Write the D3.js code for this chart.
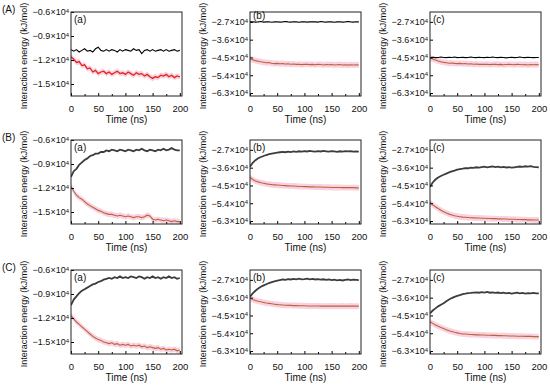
<!DOCTYPE html>
<html>
<head>
<meta charset="utf-8">
<script src="https://cdn.jsdelivr.net/npm/d3@7"></script>
<style>
  body { margin: 0; background: #fff; }
  svg { font-family: "Liberation Sans", Arial, sans-serif; }
</style>
</head>
<body>
<div id="chart"></div>
<script>
// time axis (ns), one sample every 5 ns
const times = [0,5,10,15,20,25,30,35,40,45,50,55,60,65,70,75,80,85,90,95,100,
               105,110,115,120,125,130,135,140,145,150,155,160,165,170,175,180,185,190,195,200];
const xTicks = [0, 50, 100, 150, 200];
const xMinor = [25, 75, 125, 175];
const yTicksSmall = [-0.6, -0.9, -1.2, -1.5];
const yTicksLarge = [-2.7, -3.6, -4.5, -5.4, -6.3];
const rowLabels = ["(A)", "(B)", "(C)"];
const colLabels = ["(a)", "(b)", "(c)"];

// interaction energy, units of 10^4 kJ/mol
const blackAa = [-1.07,-1.09,-1.07,-1.10,-1.08,-1.06,-1.09,-1.08,-1.10,-1.06,-1.04,-1.08,-1.09,-1.07,-1.09,-1.07,-1.08,-1.10,-1.07,-1.09,
                 -1.07,-1.08,-1.09,-1.06,-1.08,-1.07,-1.12,-1.08,-1.07,-1.09,-1.07,-1.09,-1.08,-1.07,-1.09,-1.07,-1.09,-1.08,-1.07,-1.09,-1.08];
const redAa   = [-1.16,-1.19,-1.23,-1.22,-1.27,-1.26,-1.31,-1.30,-1.35,-1.33,-1.37,-1.35,-1.34,-1.37,-1.35,-1.38,-1.36,-1.34,-1.37,-1.36,
                 -1.38,-1.35,-1.37,-1.39,-1.36,-1.38,-1.37,-1.40,-1.38,-1.41,-1.43,-1.41,-1.42,-1.39,-1.40,-1.38,-1.41,-1.39,-1.42,-1.40,-1.41];
const blackAb = [-2.70,-2.69,-2.71,-2.70,-2.68,-2.71,-2.70,-2.69,-2.72,-2.70,-2.69,-2.71,-2.70,-2.68,-2.70,-2.71,-2.69,-2.70,-2.72,-2.70,
                 -2.69,-2.71,-2.70,-2.69,-2.70,-2.71,-2.68,-2.70,-2.71,-2.69,-2.70,-2.72,-2.70,-2.69,-2.71,-2.70,-2.68,-2.70,-2.71,-2.69,-2.70];
const redAb   = [-4.58,-4.62,-4.66,-4.69,-4.72,-4.74,-4.77,-4.76,-4.79,-4.81,-4.80,-4.82,-4.81,-4.83,-4.82,-4.84,-4.83,-4.85,-4.84,-4.86,
                 -4.85,-4.84,-4.86,-4.85,-4.87,-4.85,-4.86,-4.88,-4.86,-4.87,-4.86,-4.88,-4.87,-4.86,-4.88,-4.87,-4.89,-4.87,-4.88,-4.87,-4.88];
const blackAc = [-4.50,-4.49,-4.51,-4.50,-4.48,-4.50,-4.51,-4.49,-4.50,-4.48,-4.51,-4.50,-4.49,-4.51,-4.50,-4.48,-4.50,-4.51,-4.49,-4.50,
                 -4.51,-4.49,-4.50,-4.48,-4.50,-4.51,-4.49,-4.50,-4.52,-4.50,-4.49,-4.51,-4.50,-4.48,-4.50,-4.51,-4.49,-4.50,-4.51,-4.50,-4.50];
const redAc   = [-4.53,-4.58,-4.63,-4.68,-4.72,-4.75,-4.77,-4.79,-4.78,-4.80,-4.81,-4.80,-4.82,-4.81,-4.83,-4.82,-4.84,-4.83,-4.85,-4.84,
                 -4.85,-4.84,-4.86,-4.85,-4.84,-4.86,-4.85,-4.87,-4.86,-4.85,-4.86,-4.87,-4.85,-4.86,-4.87,-4.86,-4.88,-4.86,-4.87,-4.86,-4.87];

const blackBa = [-1.06,-0.99,-0.96,-0.91,-0.88,-0.85,-0.83,-0.80,-0.79,-0.77,-0.77,-0.75,-0.75,-0.73,-0.74,-0.72,-0.73,-0.74,-0.72,-0.73,
                 -0.74,-0.72,-0.73,-0.74,-0.72,-0.73,-0.71,-0.73,-0.74,-0.72,-0.73,-0.74,-0.72,-0.73,-0.71,-0.73,-0.72,-0.70,-0.72,-0.73,-0.73];
const redBa   = [-1.18,-1.24,-1.29,-1.32,-1.34,-1.37,-1.40,-1.42,-1.44,-1.46,-1.48,-1.49,-1.51,-1.52,-1.53,-1.53,-1.54,-1.55,-1.54,-1.55,
                 -1.56,-1.55,-1.56,-1.57,-1.56,-1.56,-1.57,-1.56,-1.54,-1.55,-1.59,-1.60,-1.59,-1.60,-1.61,-1.60,-1.61,-1.62,-1.61,-1.62,-1.62];
const blackBb = [-3.55,-3.35,-3.22,-3.12,-3.06,-3.01,-2.96,-2.92,-2.89,-2.86,-2.84,-2.82,-2.80,-2.82,-2.79,-2.81,-2.78,-2.80,-2.77,-2.79,
                 -2.76,-2.78,-2.75,-2.77,-2.79,-2.76,-2.78,-2.75,-2.77,-2.79,-2.76,-2.78,-2.80,-2.77,-2.79,-2.76,-2.78,-2.77,-2.79,-2.78,-2.79];
const redBb   = [-4.10,-4.20,-4.27,-4.32,-4.36,-4.39,-4.42,-4.44,-4.46,-4.47,-4.48,-4.49,-4.50,-4.51,-4.52,-4.53,-4.53,-4.54,-4.55,-4.55,
                 -4.56,-4.56,-4.57,-4.57,-4.58,-4.58,-4.58,-4.59,-4.59,-4.59,-4.60,-4.60,-4.60,-4.60,-4.61,-4.61,-4.61,-4.61,-4.61,-4.62,-4.62];
const blackBc = [-4.56,-4.35,-4.20,-4.10,-4.02,-3.96,-3.90,-3.84,-3.79,-3.75,-3.70,-3.67,-3.65,-3.62,-3.63,-3.60,-3.61,-3.58,-3.60,-3.57,
                 -3.55,-3.58,-3.56,-3.54,-3.57,-3.55,-3.58,-3.56,-3.59,-3.57,-3.60,-3.58,-3.56,-3.54,-3.56,-3.53,-3.55,-3.52,-3.56,-3.57,-3.58];
const redBc   = [-5.35,-5.48,-5.58,-5.67,-5.75,-5.83,-5.89,-5.95,-5.99,-6.03,-6.06,-6.08,-6.10,-6.11,-6.12,-6.13,-6.14,-6.15,-6.15,-6.16,
                 -6.16,-6.17,-6.17,-6.18,-6.18,-6.19,-6.19,-6.20,-6.20,-6.21,-6.21,-6.21,-6.22,-6.22,-6.23,-6.23,-6.24,-6.24,-6.25,-6.25,-6.25];

const blackCa = [-1.04,-0.97,-0.93,-0.89,-0.86,-0.84,-0.82,-0.80,-0.78,-0.77,-0.75,-0.74,-0.72,-0.71,-0.70,-0.71,-0.69,-0.70,-0.68,-0.70,
                 -0.69,-0.70,-0.68,-0.69,-0.70,-0.68,-0.69,-0.71,-0.69,-0.70,-0.68,-0.70,-0.69,-0.71,-0.69,-0.70,-0.68,-0.70,-0.69,-0.71,-0.70];
const redCa   = [-1.17,-1.21,-1.25,-1.28,-1.31,-1.34,-1.37,-1.40,-1.43,-1.45,-1.47,-1.48,-1.50,-1.51,-1.52,-1.51,-1.53,-1.52,-1.54,-1.53,
                 -1.54,-1.53,-1.55,-1.54,-1.55,-1.54,-1.56,-1.55,-1.57,-1.56,-1.57,-1.58,-1.57,-1.59,-1.58,-1.60,-1.59,-1.60,-1.59,-1.61,-1.60];
const blackCb = [-3.55,-3.38,-3.25,-3.14,-3.05,-2.98,-2.92,-2.86,-2.81,-2.77,-2.74,-2.71,-2.68,-2.70,-2.66,-2.68,-2.65,-2.67,-2.64,-2.67,
                 -2.66,-2.64,-2.67,-2.65,-2.68,-2.66,-2.69,-2.67,-2.70,-2.68,-2.71,-2.69,-2.72,-2.70,-2.73,-2.70,-2.68,-2.71,-2.69,-2.70,-2.71];
const redCb   = [-3.63,-3.69,-3.74,-3.78,-3.81,-3.84,-3.87,-3.89,-3.91,-3.93,-3.95,-3.96,-3.97,-3.98,-3.99,-3.99,-4.00,-4.00,-4.01,-4.01,
                 -4.01,-4.02,-4.02,-4.02,-4.02,-4.02,-4.03,-4.02,-4.03,-4.02,-4.03,-4.02,-4.03,-4.03,-4.02,-4.03,-4.03,-4.02,-4.03,-4.03,-4.03];
const blackCc = [-4.39,-4.25,-4.14,-4.04,-3.96,-3.88,-3.78,-3.69,-3.62,-3.56,-3.51,-3.47,-3.42,-3.40,-3.37,-3.36,-3.34,-3.33,-3.35,-3.32,
                 -3.34,-3.31,-3.35,-3.33,-3.36,-3.34,-3.37,-3.35,-3.38,-3.36,-3.39,-3.37,-3.35,-3.38,-3.36,-3.39,-3.37,-3.38,-3.36,-3.38,-3.38];
const redCc   = [-4.82,-4.90,-4.98,-5.05,-5.11,-5.16,-5.22,-5.27,-5.31,-5.35,-5.38,-5.41,-5.43,-5.44,-5.45,-5.46,-5.47,-5.48,-5.48,-5.49,
                 -5.49,-5.50,-5.50,-5.51,-5.51,-5.52,-5.52,-5.53,-5.53,-5.54,-5.54,-5.54,-5.55,-5.55,-5.55,-5.56,-5.56,-5.56,-5.57,-5.57,-5.57];

const blackSeries = [[blackAa, blackAb, blackAc], [blackBa, blackBb, blackBc], [blackCa, blackCb, blackCc]];
const redSeries   = [[redAa, redAb, redAc], [redBa, redBb, redBc], [redCa, redCb, redCc]];

const width = 550, height = 386;
const colLeft = [71, 250, 430],
      rowTop = [12, 140, 270];
const panelW = 111, panelH = 84;

const svg = d3.select("#chart")
  .append("svg")
  .attr("width", width)
  .attr("height", height);

const drawPanel = (r, c) => {
  const g = svg.append("g")
    .attr("transform", `translate(${colLeft[c]}, ${rowTop[r]})`);

  const x = d3.scaleLinear().domain([0, 204]).range([0, panelW]);
  const y = d3.scaleLinear()
    .domain(c === 0 ? [-1.65, -0.6] : [-6.45, -2.2])
    .range([panelH, 0]);
  const yTicks = c === 0 ? yTicksSmall : yTicksLarge;

  const clipId = `clip-${r}-${c}`;
  g.append("clipPath").attr("id", clipId)
    .append("rect").attr("width", panelW).attr("height", panelH);

  const blk = blackSeries[r][c].map((v, i) => ({t: times[i], v: v}));
  const red = redSeries[r][c].map((v, i) => ({t: times[i], v: v}));
  const bw = c === 0 ? 0.035 : 0.15;

  const plot = g.append("g").attr("clip-path", `url(#${clipId})`);

  // pink shaded band behind red curve
  plot.append("path")
    .datum(red)
    .attr("fill", "#f9c6da")
    .attr("opacity", 0.8)
    .attr("d", d3.area()
      .x(d => x(d.t))
      .y0(d => y(d.v - bw))
      .y1(d => y(d.v + bw)));

  plot.append("path")
    .datum(blk)
    .attr("fill", "none")
    .attr("stroke", r === 0 ? "#000" : "#3c3c3c")
    .attr("stroke-width", r === 0 ? 1.1 : 1.8)
    .attr("d", d3.line().x(d => x(d.t)).y(d => y(d.v)));

  plot.append("path")
    .datum(red)
    .attr("fill", "none")
    .attr("stroke", (r === 0 && c === 0) ? "#e3241b" : "#b8653c")
    .attr("stroke-width", (r === 0 && c === 0) ? 1.3 : 1.1)
    .attr("d", d3.line().x(d => x(d.t)).y(d => y(d.v)));

  // axes, ticks pointing inward
  const xAxis = g.append("g")
    .attr("transform", `translate(0, ${panelH})`)
    .call(d3.axisBottom(x).tickValues(xTicks).tickSizeInner(-3).tickSizeOuter(0).tickPadding(9));
  xAxis.select(".domain").remove();
  xAxis.selectAll("text").attr("font-size", 9.5).attr("fill", "#111").attr("font-family", null);

  const xMinorAxis = g.append("g")
    .attr("transform", `translate(0, ${panelH})`)
    .call(d3.axisBottom(x).tickValues(xMinor).tickSizeInner(-2).tickSizeOuter(0).tickFormat(""));
  xMinorAxis.select(".domain").remove();

  const fmt = d3.format(".1f");
  const yAxis = g.append("g")
    .call(d3.axisLeft(y).tickValues(yTicks).tickSizeInner(-3).tickSizeOuter(0).tickPadding(2));
  yAxis.select(".domain").remove();
  yAxis.selectAll(".tick text")
    .attr("font-size", 9)
    .attr("fill", "#111")
    .attr("font-family", null)
    .text(null)
    .each(function (d) {
      const t = d3.select(this);
      t.append("tspan").text(fmt(d) + "\u00d710");
      t.append("tspan").attr("dy", "-0.4em").attr("font-size", 6).text("4");
    });

  g.append("rect")
    .attr("width", panelW)
    .attr("height", panelH)
    .attr("fill", "none")
    .attr("stroke", "#222")
    .attr("stroke-width", 1);

  g.append("text")
    .attr("x", panelW / 2)
    .attr("y", panelH + 27)
    .attr("text-anchor", "middle")
    .attr("font-size", 10)
    .attr("fill", "#111")
    .text("Time (ns)");

  g.append("text")
    .attr("transform", "rotate(-90)")
    .attr("x", -(panelH / 2) - 2)
    .attr("y", -44)
    .attr("text-anchor", "middle")
    .attr("font-size", 9)
    .attr("fill", "#111")
    .text("Interaction energy (kJ/mol)");

  g.append("text")
    .attr("x", 3)
    .attr("y", (r === 0 && c === 1) ? 7 : 11)
    .attr("font-size", 10)
    .attr("fill", "#111")
    .text(colLabels[c]);
};

for (let r = 0; r < 3; r++) {
  for (let c = 0; c < 3; c++) drawPanel(r, c);
  svg.append("text")
    .attr("x", 2)
    .attr("y", rowTop[r] + 1)
    .attr("font-size", 10)
    .attr("fill", "#111")
    .text(rowLabels[r]);
}
</script>
</body>
</html>
